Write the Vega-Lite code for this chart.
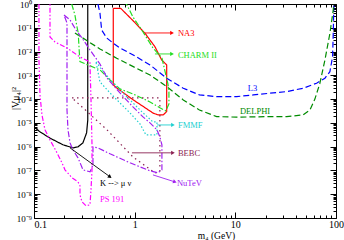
{
  "$schema": "https://vega.github.io/schema/vega-lite/v6.json",
  "width": 302,
  "height": 214,
  "autosize": "none",
  "padding": {"left": 34, "top": 4, "right": 8, "bottom": 22},
  "background": "white",
  "config": {
    "view": {"stroke": "black", "strokeWidth": 1},
    "axis": {"domain": false, "grid": false, "labelFont": "Liberation Serif", "titleFont": "Liberation Serif", "labelColor": "black", "tickColor": "black", "titleColor": "black", "titleFontWeight": "normal", "labelOverlap": false, "labelFlush": false}
  },
  "datasets": {
    "curves": [
      {"s": "K", "i": 1, "m": 0.1, "v": 6.8e-6},
      {"s": "K", "i": 2, "m": 0.1147, "v": 4.2e-6},
      {"s": "K", "i": 3, "m": 0.144, "v": 2.3e-6},
      {"s": "K", "i": 4, "m": 0.194, "v": 1.2e-6},
      {"s": "K", "i": 5, "m": 0.244, "v": 8.9e-7},
      {"s": "K", "i": 6, "m": 0.273, "v": 9.8e-7},
      {"s": "K", "i": 7, "m": 0.306, "v": 1.44e-6},
      {"s": "K", "i": 8, "m": 0.333, "v": 3.8e-6},
      {"s": "K", "i": 9, "m": 0.342, "v": 1.3e-5},
      {"s": "K", "i": 10, "m": 0.342, "v": 1e-4},
      {"s": "K", "i": 11, "m": 0.342, "v": 1},

      {"s": "NA3", "i": 1, "m": 0.613, "v": 0.66},
      {"s": "NA3", "i": 2, "m": 0.726, "v": 0.66},
      {"s": "NA3", "i": 3, "m": 0.962, "v": 0.2},
      {"s": "NA3", "i": 4, "m": 1.265, "v": 0.059},
      {"s": "NA3", "i": 5, "m": 1.59, "v": 0.016},
      {"s": "NA3", "i": 6, "m": 1.854, "v": 0.00443},
      {"s": "NA3", "i": 7, "m": 2.08, "v": 0.00274},
      {"s": "NA3", "i": 8, "m": 2.08, "v": 2.99e-5},
      {"s": "NA3", "i": 9, "m": 1.92, "v": 2.17e-5},
      {"s": "NA3", "i": 10, "m": 1.71, "v": 2.17e-5},
      {"s": "NA3", "i": 11, "m": 1.53, "v": 2.56e-5},
      {"s": "NA3", "i": 12, "m": 0.968, "v": 9.3e-5},
      {"s": "NA3", "i": 13, "m": 0.663, "v": 2.96e-4},
      {"s": "NA3", "i": 14, "m": 0.613, "v": 3.97e-4},
      {"s": "NA3", "i": 15, "m": 0.613, "v": 0.66},

      {"s": "L3", "i": 1, "m": 0.432, "v": 1},
      {"s": "L3", "i": 2, "m": 0.452, "v": 0.419},
      {"s": "L3", "i": 3, "m": 0.47, "v": 0.081},
      {"s": "L3", "i": 4, "m": 0.527, "v": 0.0373},
      {"s": "L3", "i": 5, "m": 0.609, "v": 0.023},
      {"s": "L3", "i": 6, "m": 0.714, "v": 0.01417},
      {"s": "L3", "i": 7, "m": 0.968, "v": 0.0072},
      {"s": "L3", "i": 8, "m": 1.42, "v": 0.00274},
      {"s": "L3", "i": 9, "m": 2.08, "v": 7.56e-4},
      {"s": "L3", "i": 10, "m": 3.04, "v": 2.87e-4},
      {"s": "L3", "i": 11, "m": 4.4, "v": 1.5e-4},
      {"s": "L3", "i": 12, "m": 6.52, "v": 1.27e-4},
      {"s": "L3", "i": 13, "m": 10.3, "v": 1.27e-4},
      {"s": "L3", "i": 14, "m": 15.1, "v": 1.5e-4},
      {"s": "L3", "i": 15, "m": 22.1, "v": 1.77e-4},
      {"s": "L3", "i": 16, "m": 32.3, "v": 2.07e-4},
      {"s": "L3", "i": 17, "m": 47.2, "v": 2.87e-4},
      {"s": "L3", "i": 18, "m": 64.1, "v": 4.66e-4},
      {"s": "L3", "i": 19, "m": 77.6, "v": 7.56e-4},
      {"s": "L3", "i": 20, "m": 87, "v": 1.43e-3},
      {"s": "L3", "i": 21, "m": 92.5, "v": 6.1e-3},
      {"s": "L3", "i": 22, "m": 93.9, "v": 0.0587},
      {"s": "L3", "i": 23, "m": 95.3, "v": 1},

      {"s": "DELPHI", "i": 1, "m": 0.255, "v": 0.0605},
      {"s": "DELPHI", "i": 2, "m": 0.452, "v": 0.0129},
      {"s": "DELPHI", "i": 3, "m": 0.663, "v": 0.00523},
      {"s": "DELPHI", "i": 4, "m": 0.968, "v": 0.00232},
      {"s": "DELPHI", "i": 5, "m": 1.42, "v": 1.04e-3},
      {"s": "DELPHI", "i": 6, "m": 2.08, "v": 3.35e-4},
      {"s": "DELPHI", "i": 7, "m": 3.04, "v": 9.25e-5},
      {"s": "DELPHI", "i": 8, "m": 4.4, "v": 3.5e-5},
      {"s": "DELPHI", "i": 9, "m": 6.52, "v": 1.84e-5},
      {"s": "DELPHI", "i": 10, "m": 10.3, "v": 1.74e-5},
      {"s": "DELPHI", "i": 11, "m": 22.1, "v": 1.84e-5},
      {"s": "DELPHI", "i": 12, "m": 32.3, "v": 1.84e-5},
      {"s": "DELPHI", "i": 13, "m": 47.2, "v": 2.17e-5},
      {"s": "DELPHI", "i": 14, "m": 55.1, "v": 3.5e-5},
      {"s": "DELPHI", "i": 15, "m": 61.7, "v": 1e-4},
      {"s": "DELPHI", "i": 16, "m": 69.2, "v": 4.66e-4},
      {"s": "DELPHI", "i": 17, "m": 77.6, "v": 4.4e-3},
      {"s": "DELPHI", "i": 18, "m": 87, "v": 0.0587},
      {"s": "DELPHI", "i": 19, "m": 93.9, "v": 0.56},
      {"s": "DELPHI", "i": 20, "m": 95, "v": 1},

      {"s": "CHARM II", "i": 1, "m": 0.237, "v": 1},
      {"s": "CHARM II", "i": 2, "m": 0.255, "v": 0.345},
      {"s": "CHARM II", "i": 3, "m": 0.265, "v": 0.131},
      {"s": "CHARM II", "i": 4, "m": 0.275, "v": 0.0605},
      {"s": "CHARM II", "i": 5, "m": 0.281, "v": 0.0117},
      {"s": "CHARM II", "i": 6, "m": 0.286, "v": 0.00377},
      {"s": "CHARM II", "i": 7, "m": 0.452, "v": 1.69e-3},
      {"s": "CHARM II", "i": 8, "m": 0.569, "v": 6.4e-4},
      {"s": "CHARM II", "i": 9, "m": 0.714, "v": 2.68e-4},
      {"s": "CHARM II", "i": 10, "m": 0.962, "v": 1.65e-4},
      {"s": "CHARM II", "i": 11, "m": 1.42, "v": 7.6e-5},
      {"s": "CHARM II", "i": 12, "m": 1.78, "v": 4.3e-5},
      {"s": "CHARM II", "i": 13, "m": 2.04, "v": 3.2e-5},
      {"s": "CHARM II", "i": 14, "m": 2.19, "v": 6.3e-5},
      {"s": "CHARM II", "i": 15, "m": 2.19, "v": 2.0e-4},
      {"s": "CHARM II", "i": 16, "m": 2.14, "v": 4.35e-4},
      {"s": "CHARM II", "i": 17, "m": 2.04, "v": 1.04e-3},
      {"s": "CHARM II", "i": 18, "m": 1.865, "v": 5.4e-3},
      {"s": "CHARM II", "i": 19, "m": 1.52, "v": 0.01417},
      {"s": "CHARM II", "i": 20, "m": 1.21, "v": 0.0667},
      {"s": "CHARM II", "i": 21, "m": 0.962, "v": 0.284},
      {"s": "CHARM II", "i": 22, "m": 0.839, "v": 0.908},
      {"s": "CHARM II", "i": 23, "m": 0.82, "v": 1},

      {"s": "FMMF", "i": 1, "m": 0.413, "v": 3.66e-3},
      {"s": "FMMF", "i": 2, "m": 0.474, "v": 1.69e-3},
      {"s": "FMMF", "i": 3, "m": 0.609, "v": 4.8e-4},
      {"s": "FMMF", "i": 4, "m": 0.765, "v": 1.82e-4},
      {"s": "FMMF", "i": 5, "m": 0.962, "v": 6.9e-5},
      {"s": "FMMF", "i": 6, "m": 1.21, "v": 2.63e-5},
      {"s": "FMMF", "i": 7, "m": 1.52, "v": 1.1e-5},
      {"s": "FMMF", "i": 8, "m": 1.665, "v": 1.1e-5},
      {"s": "FMMF", "i": 9, "m": 1.665, "v": 3.13e-6},
      {"s": "FMMF", "i": 10, "m": 1.295, "v": 3.13e-6},
      {"s": "FMMF", "i": 11, "m": 1.129, "v": 9.1e-6},
      {"s": "FMMF", "i": 12, "m": 0.898, "v": 2.63e-5},
      {"s": "FMMF", "i": 13, "m": 0.714, "v": 6.9e-5},
      {"s": "FMMF", "i": 14, "m": 0.569, "v": 1.82e-4},
      {"s": "FMMF", "i": 15, "m": 0.452, "v": 5.3e-4},
      {"s": "FMMF", "i": 16, "m": 0.413, "v": 3.66e-3},

      {"s": "BEBC", "i": 1, "m": 0.2385, "v": 1.12e-4},
      {"s": "BEBC", "i": 2, "m": 1.78, "v": 1.12e-4},
      {"s": "BEBC", "i": 3, "m": 1.78, "v": 8.7e-8},
      {"s": "BEBC", "i": 4, "m": 1.59, "v": 7.9e-8},
      {"s": "BEBC", "i": 5, "m": 0.962, "v": 3.7e-7},
      {"s": "BEBC", "i": 6, "m": 0.531, "v": 5.1e-6},
      {"s": "BEBC", "i": 7, "m": 0.307, "v": 4.3e-5},
      {"s": "BEBC", "i": 8, "m": 0.2385, "v": 1.12e-4},

      {"s": "NuTeV", "i": 1, "m": 0.1986, "v": 0.345},
      {"s": "NuTeV", "i": 2, "m": 0.228, "v": 0.213},
      {"s": "NuTeV", "i": 3, "m": 0.2613, "v": 0.081},
      {"s": "NuTeV", "i": 4, "m": 0.2998, "v": 0.0373},
      {"s": "NuTeV", "i": 5, "m": 0.36, "v": 0.01167},
      {"s": "NuTeV", "i": 6, "m": 0.452, "v": 0.00301},
      {"s": "NuTeV", "i": 7, "m": 0.531, "v": 7.78e-4},
      {"s": "NuTeV", "i": 8, "m": 0.714, "v": 1.82e-4},
      {"s": "NuTeV", "i": 9, "m": 0.962, "v": 4.7e-5},
      {"s": "NuTeV", "i": 10, "m": 1.21, "v": 1.79e-5},
      {"s": "NuTeV", "i": 11, "m": 1.42, "v": 1e-5},
      {"s": "NuTeV", "i": 12, "m": 1.665, "v": 5.1e-6},
      {"s": "NuTeV", "i": 13, "m": 1.78, "v": 2.58e-6},
      {"s": "NuTeV", "i": 14, "m": 1.865, "v": 1.19e-6},
      {"s": "NuTeV", "i": 15, "m": 1.865, "v": 1.06e-7},
      {"s": "NuTeV", "i": 16, "m": 1.7, "v": 7.9e-8},
      {"s": "NuTeV", "i": 17, "m": 1.42, "v": 9.6e-8},
      {"s": "NuTeV", "i": 18, "m": 0.898, "v": 2.1e-7},
      {"s": "NuTeV", "i": 19, "m": 0.569, "v": 5.0e-7},
      {"s": "NuTeV", "i": 20, "m": 0.432, "v": 8.9e-7},
      {"s": "NuTeV", "i": 21, "m": 0.3853, "v": 9.8e-7},
      {"s": "NuTeV", "i": 22, "m": 0.3853, "v": 1.72e-7},
      {"s": "NuTeV", "i": 23, "m": 0.36, "v": 8.7e-8},
      {"s": "NuTeV", "i": 24, "m": 0.307, "v": 1.06e-7},
      {"s": "NuTeV", "i": 25, "m": 0.2735, "v": 3.4e-7},
      {"s": "NuTeV", "i": 26, "m": 0.244, "v": 7.3e-7},
      {"s": "NuTeV", "i": 27, "m": 0.228, "v": 1.44e-6},
      {"s": "NuTeV", "i": 28, "m": 0.2176, "v": 5.1e-6},
      {"s": "NuTeV", "i": 29, "m": 0.2127, "v": 3.5e-5},
      {"s": "NuTeV", "i": 30, "m": 0.2127, "v": 6.4e-4},
      {"s": "NuTeV", "i": 31, "m": 0.2127, "v": 0.159},
      {"s": "NuTeV", "i": 32, "m": 0.1986, "v": 0.345},

      {"s": "PS 191", "i": 1, "m": 0.112, "v": 1},
      {"s": "PS 191", "i": 2, "m": 0.112, "v": 4.43e-3},
      {"s": "PS 191", "i": 3, "m": 0.1147, "v": 1.5e-4},
      {"s": "PS 191", "i": 4, "m": 0.12, "v": 2.17e-5},
      {"s": "PS 191", "i": 5, "m": 0.1286, "v": 5.1e-6},
      {"s": "PS 191", "i": 6, "m": 0.1442, "v": 1.93e-6},
      {"s": "PS 191", "i": 7, "m": 0.1693, "v": 5.5e-7},
      {"s": "PS 191", "i": 8, "m": 0.1897, "v": 2.09e-7},
      {"s": "PS 191", "i": 9, "m": 0.2031, "v": 1.06e-7},
      {"s": "PS 191", "i": 10, "m": 0.2385, "v": 4.9e-8},
      {"s": "PS 191", "i": 11, "m": 0.2735, "v": 3.3e-8},
      {"s": "PS 191", "i": 12, "m": 0.2863, "v": 2.25e-8},
      {"s": "PS 191", "i": 13, "m": 0.2863, "v": 9.4e-9},
      {"s": "PS 191", "i": 14, "m": 0.2998, "v": 4.8e-9},
      {"s": "PS 191", "i": 15, "m": 0.3283, "v": 3.26e-9},
      {"s": "PS 191", "i": 16, "m": 0.36, "v": 3.6e-9},
      {"s": "PS 191", "i": 17, "m": 0.3683, "v": 1.53e-8},
      {"s": "PS 191", "i": 18, "m": 0.3769, "v": 1.06e-7},
      {"s": "PS 191", "i": 19, "m": 0.3769, "v": 1.19e-6},
      {"s": "PS 191", "i": 20, "m": 0.3683, "v": 1e-4},
      {"s": "PS 191", "i": 21, "m": 0.36, "v": 2.74e-3},
      {"s": "PS 191", "i": 22, "m": 0.36, "v": 3.66e-3},
      {"s": "PS 191", "i": 23, "m": 0.2863, "v": 5.9e-3},
      {"s": "PS 191", "i": 24, "m": 0.2127, "v": 0.01417},
      {"s": "PS 191", "i": 25, "m": 0.1617, "v": 0.0253},
      {"s": "PS 191", "i": 26, "m": 0.1442, "v": 0.041},
      {"s": "PS 191", "i": 27, "m": 0.1442, "v": 1}
    ],
    "arrows": [
      {"s": "NA3", "m1": 1.265, "v1": 0.0605, "m2": 2.35, "v2": 0.0605},
      {"s": "CHARM II", "m1": 1.59, "v1": 0.00793, "m2": 2.35, "v2": 0.00793},
      {"s": "FMMF", "m1": 1.665, "v1": 8.2e-6, "m2": 2.4, "v2": 8.2e-6},
      {"s": "BEBC", "m1": 0.94, "v1": 5.5e-7, "m2": 2.4, "v2": 5.5e-7},
      {"s": "NuTeV", "m1": 1.52, "v1": 6.5e-8, "m2": 2.51, "v2": 3.3e-8},
      {"s": "K", "m1": 0.228, "v1": 8.9e-7, "m2": 0.569, "v2": 5.4e-8}
    ],
    "labels": [
      {"s": "NA3", "t": "NA3", "m": 2.69, "v": 0.0605},
      {"s": "CHARM II", "t": "CHARM II", "m": 2.69, "v": 0.0072},
      {"s": "L3", "t": "L3", "m": 13.3, "v": 2.96e-4},
      {"s": "DELPHI", "t": "DELPHI", "m": 11.1, "v": 3.2e-5},
      {"s": "FMMF", "t": "FMMF", "m": 2.69, "v": 8.2e-6},
      {"s": "BEBC", "t": "BEBC", "m": 2.69, "v": 5.5e-7},
      {"s": "NuTeV", "t": "NuTeV", "m": 2.63, "v": 3.0e-8},
      {"s": "K", "t": "K --> μ ν", "m": 0.452, "v": 3.0e-8},
      {"s": "PS 191", "t": "PS 191", "m": 0.452, "v": 6.4e-9}
    ]
  },
  "resolve": {"axis": {"x": "independent", "y": "independent"}},
  "layer": [
    {
      "data": {"name": "curves"},
      "mark": {"type": "line", "clip": true, "strokeWidth": 1.2},
      "encoding": {
        "x": {"field": "m", "type": "quantitative",
          "scale": {"type": "log", "domain": [0.1, 100], "nice": false},
          "axis": {"orient": "bottom",
            "values": [0.1,0.2,0.3,0.4,0.5,0.6,0.7,0.8,0.9,1,2,3,4,5,6,7,8,9,10,20,30,40,50,60,70,80,90,100],
            "format": "~g",
            "labelExpr": "indexof(['0.1','1','10','100'], datum.label) >= 0 ? datum.label : ''",
            "labelAlign": {"condition": {"test": "datum.value == 0.1", "value": "left"}, "value": "center"},
            "tickSize": {"condition": {"test": "indexof([0.1,1,10,100], datum.value) >= 0", "value": -6}, "value": -3},
            "labelPadding": 7, "labelFontSize": 10,
            "title": "m₄ (GeV)", "titleFontSize": 9.5, "titleX": 182, "titleY": 12, "titleBaseline": "top", "titleAlign": "center"}},
        "y": {"field": "v", "type": "quantitative",
          "scale": {"type": "log", "domain": [1e-9, 1], "nice": false},
          "axis": {"orient": "left",
            "values": [1e-9,2e-9,3e-9,4e-9,5e-9,6e-9,7e-9,8e-9,9e-9,1e-8,2e-8,3e-8,4e-8,5e-8,6e-8,7e-8,8e-8,9e-8,1e-7,2e-7,3e-7,4e-7,5e-7,6e-7,7e-7,8e-7,9e-7,1e-6,2e-6,3e-6,4e-6,5e-6,6e-6,7e-6,8e-6,9e-6,1e-5,2e-5,3e-5,4e-5,5e-5,6e-5,7e-5,8e-5,9e-5,0.0001,0.0002,0.0003,0.0004,0.0005,0.0006,0.0007,0.0008,0.0009,0.001,0.002,0.003,0.004,0.005,0.006,0.007,0.008,0.009,0.01,0.02,0.03,0.04,0.05,0.06,0.07,0.08,0.09,0.1,0.2,0.3,0.4,0.5,0.6,0.7,0.8,0.9,1],
            "labelExpr": "indexof([1e-9,1e-8,1e-7,1e-6,1e-5,0.0001,0.001,0.01,0.1,1], datum.value) >= 0 ? (datum.value == 1 ? '10⁰' : '10⁻' + ['⁰','¹','²','³','⁴','⁵','⁶','⁷','⁸','⁹'][round(-log(datum.value)/LN10)]) : ''",
            "tickSize": {"condition": {"test": "indexof([1e-9,1e-8,1e-7,1e-6,1e-5,0.0001,0.001,0.01,0.1,1], datum.value) >= 0", "value": -6}, "value": -3},
            "labelPadding": 8.5, "labelFontSize": 9,
            "title": "|Vμ₄|²", "titleFontSize": 10, "titleAngle": -90, "titleX": -19, "titleY": 94, "titleAlign": "center", "titleBaseline": "middle"}},
        "color": {"field": "s", "type": "nominal", "legend": null,
          "scale": {"domain": ["K","NA3","CHARM II","L3","DELPHI","FMMF","BEBC","NuTeV","PS 191"],
                    "range": ["#000000","#FF0000","#22DD22","#0000FF","#008B00","#20D0D0","#8B2252","#A020F0","#FF00FF"]}},
        "strokeDash": {"field": "s", "type": "nominal", "legend": null,
          "scale": {"domain": ["K","NA3","CHARM II","L3","DELPHI","FMMF","BEBC","NuTeV","PS 191"],
                    "range": [[1,0],[1,0],[6,2,1.5,2],[6,3],[6,3],[1.5,2],[1.5,3.5],[6,2,1.5,2],[5,2,1.5,2,1.5,2]]}},
        "detail": {"field": "s"},
        "order": {"field": "i", "type": "quantitative"}
      }
    },
    {
      "data": {"name": "arrows"},
      "mark": {"type": "rule", "strokeWidth": 0.9},
      "encoding": {
        "x": {"field": "m1", "type": "quantitative", "axis": null},
        "y": {"field": "v1", "type": "quantitative", "axis": null},
        "x2": {"field": "m2"},
        "y2": {"field": "v2"},
        "color": {"field": "s", "type": "nominal", "legend": null}
      }
    },
    {
      "data": {"name": "arrows"},
      "mark": {"type": "point", "shape": "triangle-right", "filled": true, "size": 18, "opacity": 1},
      "encoding": {
        "x": {"field": "m2", "type": "quantitative", "axis": null},
        "y": {"field": "v2", "type": "quantitative", "axis": null},
        "angle": {"condition": [{"test": "datum.s === 'K'", "value": 36}, {"test": "datum.s === 'NuTeV'", "value": 18}], "value": 0},
        "color": {"field": "s", "type": "nominal", "legend": null}
      }
    },
    {
      "data": {"name": "labels"},
      "mark": {"type": "text", "align": "left", "baseline": "middle", "font": "Liberation Serif", "fontSize": 8.5},
      "encoding": {
        "x": {"field": "m", "type": "quantitative",
          "axis": {"orient": "top", "labels": false, "title": null,
            "values": [0.1,0.2,0.3,0.4,0.5,0.6,0.7,0.8,0.9,1,2,3,4,5,6,7,8,9,10,20,30,40,50,60,70,80,90,100],
            "tickSize": {"condition": {"test": "indexof([0.1,1,10,100], datum.value) >= 0", "value": -6}, "value": -3}}},
        "y": {"field": "v", "type": "quantitative",
          "axis": {"orient": "right", "labels": false, "title": null,
            "values": [1e-9,2e-9,3e-9,4e-9,5e-9,6e-9,7e-9,8e-9,9e-9,1e-8,2e-8,3e-8,4e-8,5e-8,6e-8,7e-8,8e-8,9e-8,1e-7,2e-7,3e-7,4e-7,5e-7,6e-7,7e-7,8e-7,9e-7,1e-6,2e-6,3e-6,4e-6,5e-6,6e-6,7e-6,8e-6,9e-6,1e-5,2e-5,3e-5,4e-5,5e-5,6e-5,7e-5,8e-5,9e-5,0.0001,0.0002,0.0003,0.0004,0.0005,0.0006,0.0007,0.0008,0.0009,0.001,0.002,0.003,0.004,0.005,0.006,0.007,0.008,0.009,0.01,0.02,0.03,0.04,0.05,0.06,0.07,0.08,0.09,0.1,0.2,0.3,0.4,0.5,0.6,0.7,0.8,0.9,1],
            "tickSize": {"condition": {"test": "indexof([1e-9,1e-8,1e-7,1e-6,1e-5,0.0001,0.001,0.01,0.1,1], datum.value) >= 0", "value": -6}, "value": -3}}},
        "text": {"field": "t"},
        "color": {"field": "s", "type": "nominal", "legend": null}
      }
    }
  ]
}
